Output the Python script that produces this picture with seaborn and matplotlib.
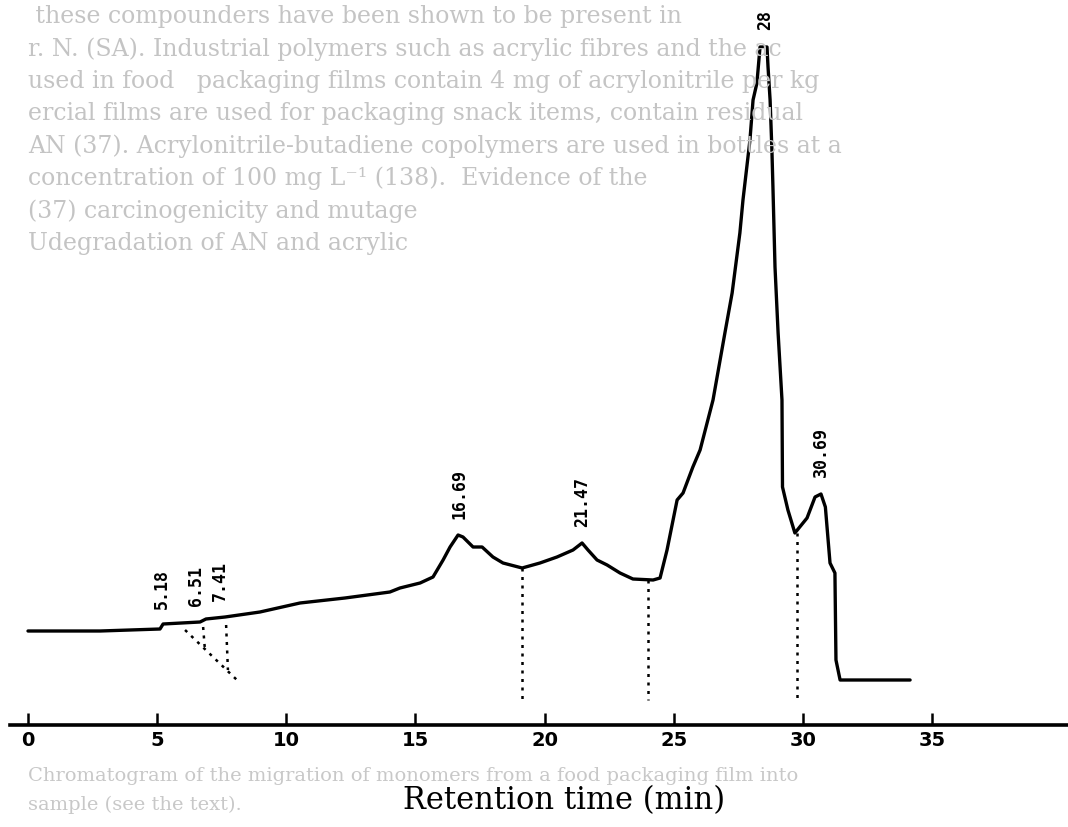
import numpy as np
import matplotlib
matplotlib.use("Agg")
import matplotlib.pyplot as plt
import seaborn as sns

# Detector trace: retention time (min) and detector response (arbitrary units)
rt = [0.00, 2.79, 5.11, 5.23, 6.66, 6.89, 7.63, 8.98, 10.53, 12.27, 14.01,
      14.40, 15.18, 15.68, 16.07, 16.34, 16.65, 16.84, 17.23, 17.58, 18.00,
      18.39, 19.13, 19.82, 20.48, 21.10, 21.45, 21.68, 22.03, 22.42, 22.92,
      23.42, 24.20, 24.47, 24.74, 25.13, 25.36, 25.74, 26.02, 26.52, 26.98,
      27.26, 27.56, 27.68, 27.95, 28.07, 28.22, 28.34, 28.61, 28.65, 28.73,
      28.80, 28.84, 28.92, 29.04, 29.19, 29.21, 29.42, 29.69, 30.16, 30.47,
      30.70, 30.87, 31.05, 31.24, 31.28, 31.44, 32.60, 34.15]
signal = [9.4, 9.4, 9.6, 10.1, 10.3, 10.6, 10.8, 11.3, 12.2, 12.7, 13.3,
          13.7, 14.2, 14.8, 16.5, 17.8, 19.0, 18.8, 17.8, 17.8, 16.8,
          16.2, 15.7, 16.2, 16.8, 17.5, 18.2, 17.5, 16.5, 16.0, 15.2,
          14.6, 14.5, 14.7, 17.5, 22.5, 23.2, 25.8, 27.5, 32.5, 39.2,
          43.2, 49.2, 52.5, 58.5, 62.5, 64.2, 67.8, 67.8, 65.8, 62.5,
          57.5, 53.8, 45.8, 39.2, 32.5, 23.8, 21.5, 19.2, 20.7, 22.8,
          23.1, 21.8, 16.2, 15.2, 6.5, 4.5, 4.5, 4.5]

# Integrator peak marks
peak_rt = [5.18, 6.51, 7.41, 16.69, 21.47, 28.55, 30.69]
peak_text = ["5.18", "6.51", "7.41", "16.69", "21.47", "28", "30.69"]

# Integration drop lines: (start time, start level, end time, end level)
drop_t0 = [19.13, 24.00, 29.77, 6.08, 6.78, 7.67]
drop_s0 = [15.7, 14.5, 19.2, 9.5, 9.8, 10.0]
drop_t1 = [19.13, 24.00, 29.77, 8.09, 6.85, 7.74]
drop_s1 = [2.5, 2.5, 2.5, 4.5, 7.5, 5.5]

xticks = [0, 5, 10, 15, 20, 25, 30, 35]

# Faint print showing through the page
page_lines = [
    " these compounders have been shown to be present in",
    "r. N. (SA). Industrial polymers such as acrylic fibres and the ac",
    "used in food   packaging films contain 4 mg of acrylonitrile per kg",
    "ercial films are used for packaging snack items, contain residual",
    "AN (37). Acrylonitrile-butadiene copolymers are used in bottles at a",
    "concentration of 100 mg L\u207b\u00b9 (138).  Evidence of the",
    "(37) carcinogenicity and mutage",
    "Udegradation of AN and acrylic",
]
caption_lines = [
    "Chromatogram of the migration of monomers from a food packaging film into",
    "sample (see the text).",
]

sns.set_theme(style="white")
plt.rcParams["font.family"] = ["DejaVu Sans"]

W, H = 1068, 827
fig = plt.figure(figsize=(W / 100, H / 100), dpi=100)
fig.patch.set_facecolor("white")

# axes spans the page width; x maps 25.83 px per minute with t=0 at 28 px
x0_px, px_per_min = 28.0, 25.83
left_px, axis_y_px = 10.0, 725.0
ax = fig.add_axes([left_px / W, (H - axis_y_px) / H,
                   (W - left_px) / W, axis_y_px / H])
ax.set_xlim((left_px - x0_px) / px_per_min, (W - x0_px) / px_per_min)
ax.set_ylim(0, axis_y_px / 10.0)
ax.patch.set_alpha(0)

# show-through text behind the trace
for i, line in enumerate(page_lines):
    fig.text(28 / W, 1 - (17 + 32.3 * i) / H, line, fontsize=17,
             family=["DejaVu Serif"], color="#c4c4c4",
             va="center", ha="left", zorder=0)
for i, line in enumerate(caption_lines):
    fig.text(28 / W, 1 - (776 + 29 * i) / H, line, fontsize=14,
             family=["DejaVu Serif"], color="#c8c8c8",
             va="center", ha="left", zorder=0)

sns.lineplot(x=rt, y=signal, ax=ax, color="black", linewidth=2.4,
             sort=False, estimator=None, legend=False, zorder=3)

for a, b, c, d in zip(drop_t0, drop_s0, drop_t1, drop_s1):
    ax.plot([a, c], [b, d], color="black", linestyle=(0, (1.2, 2.2)),
            linewidth=1.8, zorder=2)

for t, lab in zip(peak_rt, peak_text):
    y = np.interp(t, rt, signal)
    ax.annotate(lab, xy=(t, y), xytext=(0, 12), textcoords="offset points",
                rotation=90, ha="center", va="bottom", fontsize=12,
                family=["DejaVu Sans Mono"], fontweight="bold",
                color="black", annotation_clip=False, zorder=4)

for s in ["left", "top", "right"]:
    ax.spines[s].set_visible(False)
ax.spines["bottom"].set_color("black")
ax.spines["bottom"].set_linewidth(2.6)
ax.set_yticks([])
ax.set_xticks(xticks)
ax.set_xticklabels([str(v) for v in xticks], family=["DejaVu Sans"],
                   fontweight="bold", fontsize=14)
ax.tick_params(axis="x", direction="in", length=9, width=1.8,
               color="black", pad=4, labelcolor="black", bottom=True)
ax.set_xlabel("")
ax.set_ylabel("")

fig.text(564 / W, 1 - 801 / H, "Retention time (min)", fontsize=22,
         family=["DejaVu Serif"], color="black",
         ha="center", va="center")

fig.savefig("out.png", dpi=100, facecolor="white")
